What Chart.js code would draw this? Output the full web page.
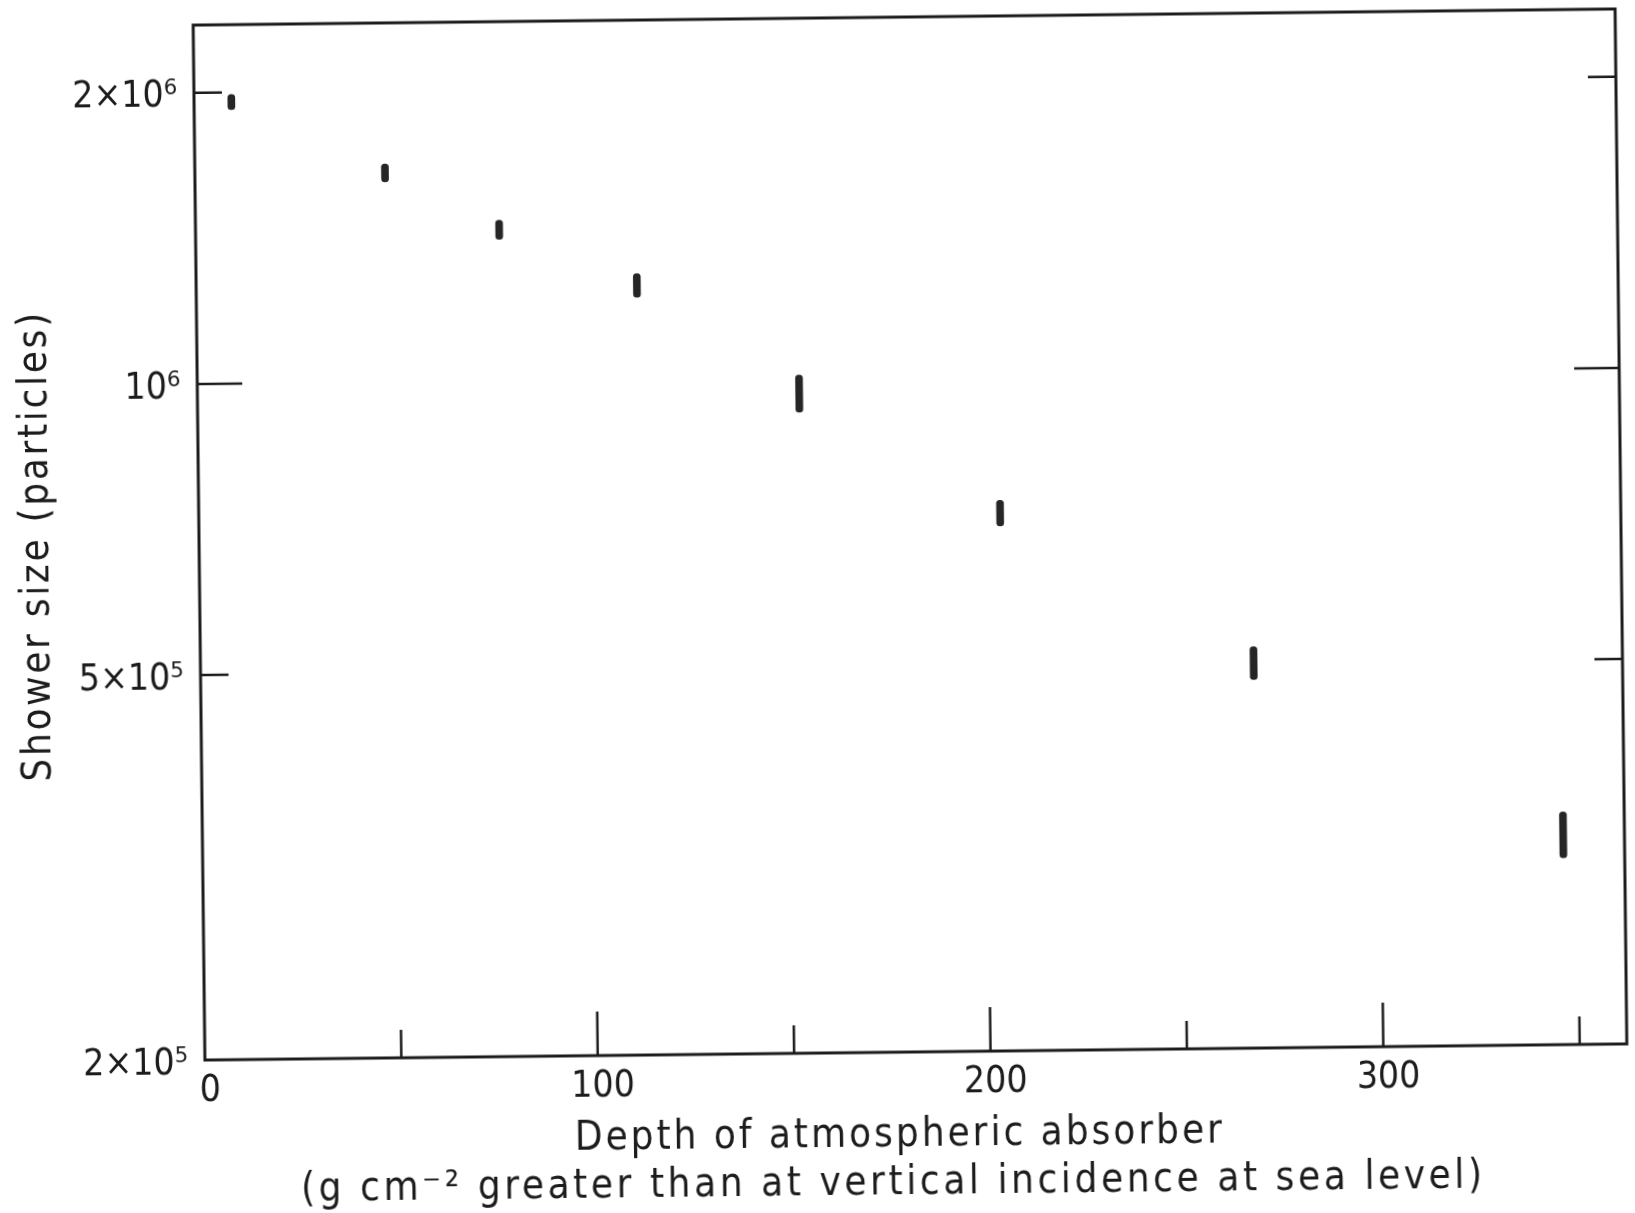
<!DOCTYPE html>
<html>
<head>
<meta charset="utf-8">
<script src="https://cdn.jsdelivr.net/npm/chart.js@4.4.1/dist/chart.umd.min.js"></script>
<style>
  html, body { margin: 0; padding: 0; background: #fff; overflow: hidden; }
  /* the original sheet sits a little skewed on the page */
  #wrap { position: absolute; left: 0; top: 0; width: 1635px; height: 1213px;
          transform: rotate(-0.65deg); transform-origin: 910px 535px; }
</style>
</head>
<body>
<div id="wrap"><canvas id="shower" width="1635" height="1213"></canvas></div>
<script>
// depth of absorber (g cm^-2) and the range of shower size at each depth
const depth    = [9.5, 48.4, 77.3, 112.2, 153.2, 204.0, 268.1, 346.4];
const sizeLow  = [1.92e6, 1.61e6, 1.40e6, 1.215e6, 9.2e5, 6.98e5, 4.81e5, 3.12e5];
const sizeHigh = [1.99e6, 1.68e6, 1.465e6, 1.285e6, 1.005e6, 7.42e5, 5.20e5, 3.48e5];

const xTicks      = [0, 50, 100, 150, 200, 250, 300, 350];
const xTickLabels = ['0', '', '100', '', '200', '', '300', ''];
const yTicks      = [2e5, 5e5, 1e6, 2e6];
const yTickLabels = ['2×10⁵', '5×10⁵', '10⁶', '2×10⁶'];

const xTitle = ['Depth of atmospheric absorber',
                '(g cm⁻² greater than at vertical incidence at sea level)'];
const yTitle = 'Shower size (particles)';

const ink = '#1c1c1c';
const fontFamily = "'DejaVu Sans Condensed', 'DejaVu Sans'";

// box round the plot with inward ticks on left, right and bottom
const frame = {
  id: 'frame',
  afterDraw(chart) {
    const { ctx, chartArea: a, scales: { x, y } } = chart;
    ctx.save();
    ctx.strokeStyle = ink;
    ctx.lineWidth = 3;
    ctx.strokeRect(a.left, a.top, a.right - a.left, a.bottom - a.top);
    ctx.lineWidth = 2.5;
    ctx.beginPath();
    xTicks.forEach(v => {
      if (v === x.min) return;
      const px = x.getPixelForValue(v);
      const len = v % 100 === 0 ? 44 : 28;
      ctx.moveTo(px, a.bottom);
      ctx.lineTo(px, a.bottom - len);
    });
    yTicks.forEach(v => {
      if (v === y.min) return;
      const py = y.getPixelForValue(v);
      const len = Number.isInteger(Math.log10(v)) ? 45 : 28;
      ctx.moveTo(a.left, py);
      ctx.lineTo(a.left + len, py);
      ctx.moveTo(a.right, py);
      ctx.lineTo(a.right - len, py);
    });
    ctx.stroke();
    ctx.restore();
  }
};

// axis titles, lettered with wide spacing
const axisTitles = {
  id: 'axisTitles',
  afterDraw(chart) {
    const { ctx, chartArea: a } = chart;
    const cx = (a.left + a.right) / 2;
    const cy = (a.top + a.bottom) / 2;
    ctx.save();
    ctx.fillStyle = ink;
    ctx.font = '40px ' + fontFamily;
    ctx.textAlign = 'center';
    ctx.textBaseline = 'middle';
    ctx.letterSpacing = '3px';
    ctx.fillText(xTitle[0], cx - 17, a.bottom + 84);
    ctx.letterSpacing = '3.6px';
    ctx.fillText(xTitle[1], cx - 24, a.bottom + 132);
    ctx.letterSpacing = '2.7px';
    ctx.translate(a.left - 161, cy + 1.5);
    ctx.rotate(-Math.PI / 2);
    ctx.fillText(yTitle, 0, 0);
    ctx.restore();
  }
};

new Chart(document.getElementById('shower'), {
  type: 'bar',
  data: {
    datasets: [{
      data: depth.map((d, i) => ({ x: d, y: [sizeLow[i], sizeHigh[i]] })),
      backgroundColor: '#262626',
      barThickness: 7,
      borderRadius: 3.5,
      borderSkipped: false,
      grouped: false
    }]
  },
  options: {
    responsive: false,
    animation: false,
    layout: { padding: { left: 0, right: 14, top: 17, bottom: 0 } },
    plugins: { legend: { display: false }, tooltip: { enabled: false } },
    scales: {
      x: {
        type: 'linear',
        min: 0,
        max: 362,
        offset: false,
        grid: { display: false, drawTicks: false },
        border: { display: false },
        afterBuildTicks: s => { s.ticks = xTicks.map(v => ({ value: v })); },
        afterFit: s => { s.height = 161; s.paddingLeft = 0; s.paddingRight = 0; },
        ticks: {
          autoSkip: false,
          maxRotation: 0,
          padding: 9,
          labelOffset: 5,
          color: ink,
          font: { family: fontFamily, size: 37 },
          callback: v => xTickLabels[xTicks.indexOf(v)]
        }
      },
      y: {
        type: 'logarithmic',
        min: 2e5,
        max: 2.35e6,
        grid: { display: false, drawTicks: false },
        border: { display: false },
        afterBuildTicks: s => { s.ticks = yTicks.map(v => ({ value: v })); },
        afterFit: s => { s.width = 199; s.paddingTop = 0; s.paddingBottom = 0; },
        ticks: {
          autoSkip: false,
          padding: 17,
          labelOffset: 4,
          color: ink,
          font: { family: fontFamily, size: 37 },
          callback: v => yTickLabels[yTicks.indexOf(v)]
        }
      }
    }
  },
  plugins: [frame, axisTitles]
});
</script>
</body>
</html>
